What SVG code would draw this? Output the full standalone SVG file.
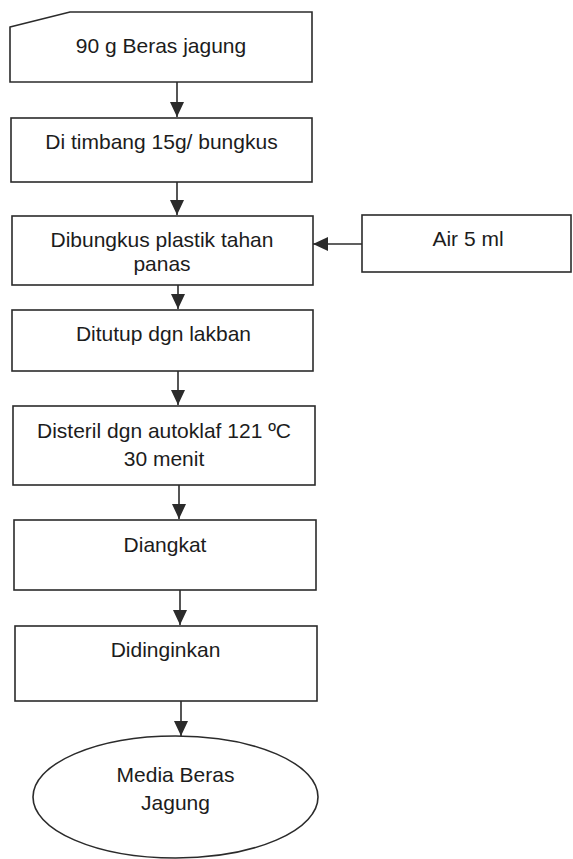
<svg xmlns="http://www.w3.org/2000/svg" width="573" height="859" viewBox="0 0 573 859">
  <style>
    .box { fill: #ffffff; stroke: #2b2b2b; stroke-width: 1.6; }
    .lbl { font-family: "Liberation Sans", Arial, sans-serif; font-size: 21px; fill: #1c1c1c; text-anchor: middle; }
    .flow { fill: none; stroke: #2b2b2b; stroke-width: 1.6; marker-end: url(#head); }
  </style>
  <defs>
    <marker id="head" markerUnits="userSpaceOnUse" markerWidth="15" markerHeight="14" refX="15" refY="7" orient="auto">
      <path d="M0,0 L15,7 L0,14 Z" fill="#2b2b2b"/>
    </marker>
  </defs>
  <rect width="573" height="859" fill="#ffffff"/>

  <!-- process steps -->
  <g id="n-input">
    <path class="box" d="M10,27 L70,12 L312,12 L312,82 L10,82 Z"/>
    <text class="lbl" x="161" y="53">90 g Beras jagung</text>
  </g>
  <g id="n-timbang">
    <rect class="box" x="11" y="118" width="301" height="64"/>
    <text class="lbl" x="161.5" y="149">Di timbang 15g/ bungkus</text>
  </g>
  <g id="n-bungkus">
    <rect class="box" x="12" y="216" width="301" height="69"/>
    <text class="lbl" x="162" y="247">Dibungkus plastik tahan</text>
    <text class="lbl" x="162" y="271">panas</text>
  </g>
  <g id="n-air">
    <rect class="box" x="362" y="215" width="209" height="57"/>
    <text class="lbl" x="468" y="246">Air 5 ml</text>
  </g>
  <g id="n-tutup">
    <rect class="box" x="12" y="310" width="301" height="61"/>
    <text class="lbl" x="163.5" y="341">Ditutup dgn lakban</text>
  </g>
  <g id="n-steril">
    <rect class="box" x="13" y="406" width="302" height="79"/>
    <text class="lbl" x="164" y="438">Disteril dgn autoklaf 121 ºC</text>
    <text class="lbl" x="164" y="466">30 menit</text>
  </g>
  <g id="n-angkat">
    <rect class="box" x="14" y="520" width="302" height="70"/>
    <text class="lbl" x="165" y="552">Diangkat</text>
  </g>
  <g id="n-dingin">
    <rect class="box" x="15" y="626" width="302" height="75"/>
    <text class="lbl" x="165.5" y="657">Didinginkan</text>
  </g>
  <g id="n-media">
    <ellipse class="box" cx="175.5" cy="797" rx="142.5" ry="61"/>
    <text class="lbl" x="175.5" y="782">Media Beras</text>
    <text class="lbl" x="175.5" y="810">Jagung</text>
  </g>

  <!-- connectors -->
  <g id="connectors">
    <line class="flow" x1="177" y1="82" x2="177" y2="117"/>
    <line class="flow" x1="177" y1="182" x2="177" y2="215"/>
    <line class="flow" x1="178" y1="285" x2="178" y2="309"/>
    <line class="flow" x1="178" y1="371" x2="178" y2="405"/>
    <line class="flow" x1="179" y1="485" x2="179" y2="519"/>
    <line class="flow" x1="180" y1="590" x2="180" y2="625"/>
    <line class="flow" x1="181" y1="701" x2="181" y2="736"/>
    <line class="flow" x1="362" y1="244" x2="313" y2="244"/>
  </g>
</svg>
